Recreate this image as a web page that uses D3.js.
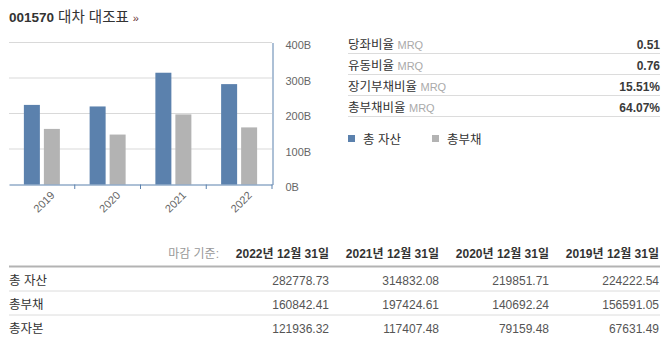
<!DOCTYPE html>
<html>
<head>
<meta charset="utf-8">
<script src="https://cdn.jsdelivr.net/npm/d3@7"></script>
<style>
  body { margin: 0; background: #fff; }
  svg text { font-family: "Liberation Sans", Arial, "Noto Sans CJK KR", sans-serif; }
</style>
</head>
<body>
<svg id="main" width="666" height="362"></svg>
<script>
// values in millions (table); chart shows billions
const years = ["2019", "2020", "2021", "2022"]
const totalAssets = [224222.54, 219851.71, 314832.08, 282778.73]
const totalLiabilities = [156591.05, 140692.24, 197424.61, 160842.41]
const totalEquity = [67631.49, 79159.48, 117407.48, 121936.32]
const yTicks = [0, 100, 200, 300, 400]

const seriesNames = ["총 자산", "총부채"]
const seriesColors = ["#5b81ad", "#b3b3b3"]

const ratioLabels = ["당좌비율", "유동비율", "장기부채비율", "총부채비율"]
const ratioValues = ["0.51", "0.76", "15.51%", "64.07%"]

const tableDates = ["2022년 12월 31일", "2021년 12월 31일", "2020년 12월 31일", "2019년 12월 31일"]
const tableRows = ["총 자산", "총부채", "총자본"]

const svg = d3.select("#main")

function drawTitle() {
    const t = svg.append("text")
      .attr("x", 9)
      .attr("y", 22)
      .attr("font-size", "13.5px")
      .attr("fill", "#333")
    t.append("tspan").attr("font-weight", "bold").text("001570")
    t.append("tspan").attr("font-size", "14.5px").text(" 대차 대조표 ")
    t.append("tspan").attr("font-size", "11px").attr("fill", "#633").text("»")
}

function drawChart() {
    const x0 = d3.scaleBand()
        .domain(years)
        .range([9, 272])

    const x1 = d3.scaleBand()
        .domain(seriesNames)
        .range([-18, 18])
        .paddingInner(0.2)

    const y = d3.scaleLinear()
        .domain([0, 400])
        .range([184.5, 42.5])

    // gridlines
    svg.append("g")
      .selectAll("line")
      .data(yTicks.filter(d => d > 0))
      .enter().append("line")
        .attr("x1", 9)
        .attr("x2", 272)
        .attr("y1", d => y(d))
        .attr("y2", d => y(d))
        .attr("stroke", "#d9d9d9")

    const groups = svg.append("g")
      .selectAll("g")
      .data(years)
      .enter().append("g")
        .attr("transform", d => `translate(${x0(d) + x0.bandwidth() / 2},0)`)

    groups.selectAll("rect")
      .data((d, i) => [totalAssets[i] / 1000, totalLiabilities[i] / 1000])
      .enter().append("rect")
        .attr("x", (d, j) => x1(seriesNames[j]))
        .attr("width", x1.bandwidth())
        .attr("y", d => y(d))
        .attr("height", d => y(0) - y(d))
        .attr("fill", (d, j) => seriesColors[j])

    // right axis
    const yAxis = svg.append("g")
      .attr("transform", "translate(272.5,0)")
      .call(d3.axisRight(y).tickValues(yTicks).tickSize(0).tickPadding(13).tickFormat(d => d + "B"))
    yAxis.select(".domain").attr("stroke", "#5b81ad")
    yAxis.selectAll("text")
      .attr("font-size", "11px")
      .attr("fill", "#666")
      .attr("text-anchor", "start")
      .attr("dy", "0.55em")

    // bottom axis
    const xAxis = svg.append("g")
      .attr("transform", "translate(0,184.5)")
      .call(d3.axisBottom(x0).tickSize(0).tickFormat(""))
    xAxis.select(".domain").attr("stroke", "#5b81ad")

    svg.append("g")
      .selectAll("line")
      .data(years)
      .enter().append("line")
        .attr("x1", d => x0(d) + x0.bandwidth())
        .attr("x2", d => x0(d) + x0.bandwidth())
        .attr("y1", 184.5)
        .attr("y2", 189)
        .attr("stroke", "#5b81ad")

    svg.append("g")
      .selectAll("text")
      .data(years)
      .enter().append("text")
        .attr("transform", d => `translate(${x0(d) + x0.bandwidth() / 2 + 13.5},196) rotate(-45)`)
        .attr("text-anchor", "end")
        .attr("font-size", "11px")
        .attr("fill", "#666")
        .text(d => d)
}

function drawRatios() {
    const rowY = d3.scaleBand()
        .domain(ratioLabels)
        .range([33, 117])

    const rows = svg.append("g")
      .selectAll("g")
      .data(ratioLabels)
      .enter().append("g")
        .attr("transform", d => `translate(0,${rowY(d)})`)

    rows.append("line")
      .attr("x1", 348)
      .attr("x2", 660)
      .attr("y1", rowY.bandwidth() - 0.5)
      .attr("y2", rowY.bandwidth() - 0.5)
      .attr("stroke", "#dcdcdc")

    const label = rows.append("text")
      .attr("x", 348)
      .attr("y", 15.5)
      .attr("font-size", "12.5px")
      .attr("fill", "#333")
    label.append("tspan").text(d => d + " ")
    label.append("tspan").attr("font-size", "11px").attr("fill", "#aaa").text("MRQ")

    rows.append("text")
      .attr("x", 660)
      .attr("y", 15.5)
      .attr("text-anchor", "end")
      .attr("font-size", "12px")
      .attr("font-weight", "bold")
      .attr("fill", "#3a3a3a")
      .text((d, i) => ratioValues[i])

    // legend
    const legendX = [348, 432]
    const legend = svg.append("g")
      .selectAll("g")
      .data(seriesNames)
      .enter().append("g")
        .attr("transform", (d, i) => `translate(${legendX[i]},135)`)
    legend.append("rect")
      .attr("width", 7)
      .attr("height", 7)
      .attr("fill", (d, i) => seriesColors[i])
    legend.append("text")
      .attr("x", 15)
      .attr("y", 9)
      .attr("font-size", "12.5px")
      .attr("fill", "#333")
      .text(d => d)
}

function drawTable() {
    const colRight = d3.scaleBand()
        .domain(tableDates)
        .range([219, 659])

    const rowValues = [totalAssets, totalLiabilities, totalEquity]
    const rowY = d3.scaleBand()
        .domain(tableRows)
        .range([267, 339])

    svg.append("text")
      .attr("x", 219)
      .attr("y", 258)
      .attr("text-anchor", "end")
      .attr("font-size", "12px")
      .attr("fill", "#999")
      .text("마감 기준:")

    svg.append("g")
      .selectAll("text")
      .data(tableDates)
      .enter().append("text")
        .attr("x", d => colRight(d) + colRight.bandwidth())
        .attr("y", 258)
        .attr("text-anchor", "end")
        .attr("font-size", "12px")
        .attr("font-weight", "bold")
        .attr("fill", "#333")
        .text(d => d)

    svg.append("line")
      .attr("x1", 9)
      .attr("x2", 660)
      .attr("y1", 266.5)
      .attr("y2", 266.5)
      .attr("stroke", "#b3b3b3")
      .attr("stroke-width", 2)

    const rows = svg.append("g")
      .selectAll("g")
      .data(tableRows)
      .enter().append("g")
        .attr("transform", d => `translate(0,${rowY(d)})`)

    rows.filter((d, i) => i < tableRows.length - 1)
      .append("line")
        .attr("x1", 9)
        .attr("x2", 660)
        .attr("y1", 24)
        .attr("y2", 24)
        .attr("stroke", "#dcdcdc")

    rows.append("text")
      .attr("x", 9)
      .attr("y", 18)
      .attr("font-size", "12.5px")
      .attr("fill", "#333")
      .text(d => d)

    rows.each(function (d, i) {
        // table columns go newest first
        const vals = rowValues[i].slice().reverse()
        d3.select(this).selectAll(".val")
          .data(vals)
          .enter().append("text")
            .attr("class", "val")
            .attr("x", (v, j) => colRight(tableDates[j]) + colRight.bandwidth())
            .attr("y", 18)
            .attr("text-anchor", "end")
            .attr("font-size", "12px")
            .attr("fill", "#555")
            .text(v => v.toFixed(2))
    })
}

drawTitle()
drawChart()
drawRatios()
drawTable()
</script>
</body>
</html>
